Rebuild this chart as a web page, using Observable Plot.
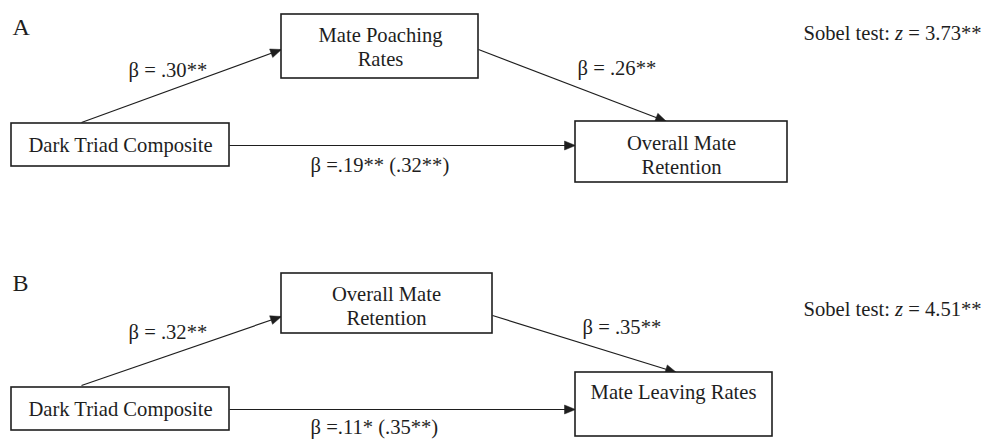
<!DOCTYPE html>
<html><head><meta charset="utf-8">
<script src="https://cdn.jsdelivr.net/npm/d3@7"></script>
<script src="https://cdn.jsdelivr.net/npm/@observablehq/plot@0.6"></script>
<style>body{margin:0;background:#fff}</style>
</head><body><div id="chart"></div>
<script>
// ---- content (text) ----
const panels = ["A", "B"];
const predictors = ["Dark Triad Composite", "Dark Triad Composite"];
const mediators = ["Mate Poaching\nRates", "Overall Mate\nRetention"];
const outcomes = ["Overall Mate\nRetention", "Mate Leaving Rates"];
const pathA = ["β = .30**", "β = .32**"];
const pathB = ["β = .26**", "β = .35**"];
const pathC = ["β =.19** (.32**)", "β =.11* (.35**)"];
const sobelZ = ["3.73**", "4.51**"];

// ---- layout (pixel frame, identity scales) ----
const layout = [
  {label: [12, 27], pred: [11, 123, 229, 166], med: [281, 14, 478, 78], out: [575, 121, 787, 182],
   predText: [120, 144], medText: [380, 46], outText: [681, 154],
   a: [81, 122, 281, 49], b: [478, 49, 666, 121], c: [229, 145, 575, 145],
   labA: [128, 70], labB: [577, 68], labC: [310, 165], sobel: [803, 33]},
  {label: [12, 283], pred: [11, 387, 229, 430], med: [281, 273, 492, 333], out: [575, 372, 772, 436],
   predText: [120, 408], medText: [386, 305], outText: [673, 391],
   a: [81, 385, 281, 316], b: [492, 315, 676, 372], c: [229, 409, 575, 409],
   labA: [128, 332], labB: [582, 327], labC: [310, 427], sobel: [803, 309]}
];

const boxes = [], boxText = [], edges = [], edgeText = [], panelText = [], sobelText = [];
panels.forEach((p, i) => {
  const L = layout[i];
  panelText.push({x: L.label[0], y: L.label[1], text: p});
  for (const [k, t] of [["pred", predictors[i]], ["med", mediators[i]], ["out", outcomes[i]]]) {
    const r = L[k];
    boxes.push({x1: r[0], y1: r[1], x2: r[2], y2: r[3]});
    boxText.push({x: L[k + "Text"][0], y: L[k + "Text"][1], text: t});
  }
  for (const k of ["a", "b", "c"]) {
    const e = L[k];
    edges.push({id: p + k, x1: e[0], y1: e[1], x2: e[2], y2: e[3]});
  }
  edgeText.push({x: L.labA[0], y: L.labA[1], text: pathA[i]});
  edgeText.push({x: L.labB[0], y: L.labB[1], text: pathB[i]});
  edgeText.push({x: L.labC[0], y: L.labC[1], text: pathC[i]});
  sobelText.push({x: L.sobel[0], y: L.sobel[1], text: "Sobel test: z = " + sobelZ[i]});
});

// arrowheads derived from edge endpoints
const heads = [];
const HL = 11, HW = 4.5;
edges.forEach(e => {
  const dx = e.x2 - e.x1, dy = e.y2 - e.y1, len = Math.hypot(dx, dy);
  const ux = dx / len, uy = dy / len;
  const bx = e.x2 - ux * HL, by = e.y2 - uy * HL;
  heads.push({id: e.id, x: e.x2, y: e.y2});
  heads.push({id: e.id, x: bx - uy * HW, y: by + ux * HW});
  heads.push({id: e.id, x: bx + uy * HW, y: by - ux * HW});
  heads.push({id: e.id, x: e.x2, y: e.y2});
});

const ink = "#1e1e1e";
const serif = "Liberation Serif, Times New Roman, DejaVu Serif, serif";
const fs = 20.6;
const chart = Plot.plot({
  width: 982, height: 439, margin: 0,
  x: {domain: [0, 982], range: [0, 982], axis: null},
  y: {domain: [0, 439], range: [0, 439], axis: null},
  style: {fontFamily: serif, background: "white"},
  marks: [
    Plot.link(edges, {x1: "x1", y1: "y1", x2: "x2", y2: "y2", stroke: ink, strokeWidth: 1.2}),
    Plot.line(heads, {x: "x", y: "y", z: "id", fill: ink, stroke: ink, strokeWidth: 0.5}),
    Plot.rect(boxes, {x1: "x1", y1: "y1", x2: "x2", y2: "y2", fill: "white", stroke: ink, strokeWidth: 1.6}),
    Plot.text(boxText, {x: "x", y: "y", text: "text", fontSize: fs, fontFamily: serif, fill: ink, lineHeight: 1.17}),
    Plot.text(edgeText, {x: "x", y: "y", text: "text", fontSize: fs, fontFamily: serif, fill: ink, textAnchor: "start"}),
    Plot.text(panelText, {x: "x", y: "y", text: "text", fontSize: 24, fontFamily: serif, fill: ink, textAnchor: "start"}),
    Plot.text(sobelText, {x: "x", y: "y", text: "text", fontSize: fs, fontFamily: serif, fill: ink, textAnchor: "start"})
  ]
});
document.getElementById("chart").appendChild(chart);

// italic z in Sobel labels
d3.select(chart).selectAll("text").filter(function() { return this.textContent.startsWith("Sobel"); })
  .each(function() {
    const t = d3.select(this);
    const rest = this.textContent.replace("Sobel test: z", "");
    t.text(null);
    t.append("tspan").text("Sobel test: ");
    t.append("tspan").attr("font-style", "italic").text("z");
    t.append("tspan").text(rest);
  });
</script>
</body></html>
